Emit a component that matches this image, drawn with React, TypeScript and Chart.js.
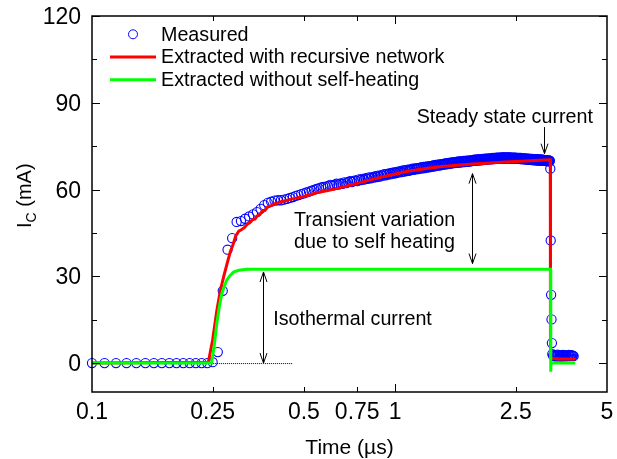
import React, { useEffect, useRef } from "react";
import { Chart, registerables } from "chart.js";

Chart.register(...registerables);

// ---------- data ----------
const xTicks = [0.1, 0.25, 0.5, 0.75, 1, 2.5, 5];
const xTickLabels = ["0.1", "0.25", "0.5", "0.75", "1", "2.5", "5"];
const xMinorTicks = [0.25, 0.5, 0.75, 2.5];
const xMajorTicks = [1];
const yTicks = [0, 30, 60, 90, 120];
const yMinorTicks = [15, 45, 75, 105];

// measured collector current (time in µs, current in mA)
const measuredRise: [number, number][] = [
  [0.10, 0], [0.11, 0], [0.12, 0], [0.13, 0], [0.14, 0], [0.15, 0], [0.16, 0], [0.17, 0], [0.18, 0], [0.19, 0],
  [0.20, 0], [0.21, 0], [0.22, 0], [0.23, 0], [0.24, 0], [0.25, 0.3], [0.26, 3.8], [0.27, 25.0], [0.28, 39.2], [0.29, 43.2],
  [0.30, 48.8], [0.31, 49.1], [0.32, 49.9], [0.33, 50.7], [0.34, 51.4], [0.35, 52.2], [0.36, 53.3], [0.37, 54.6], [0.38, 55.4], [0.39, 55.8],
  [0.40, 56.2], [0.41, 56.3], [0.42, 56.3], [0.43, 56.5], [0.44, 56.8], [0.45, 57.1], [0.46, 57.4], [0.47, 57.8], [0.48, 58.1], [0.49, 58.4],
  [0.50, 58.7], [0.51, 59.0], [0.52, 59.3], [0.53, 59.6], [0.54, 59.9], [0.55, 60.2], [0.56, 60.4], [0.57, 60.7], [0.58, 60.9], [0.59, 61.0],
];

const measuredRamp: [number, number][] = [
  [0.60, 61.2], [0.61, 61.6], [0.62, 61.4], [0.63, 61.5], [0.64, 62.0], [0.65, 61.7], [0.66, 62.1], [0.67, 62.0], [0.68, 62.5], [0.69, 62.2],
  [0.70, 62.6], [0.71, 62.9], [0.72, 62.6], [0.73, 63.0], [0.74, 63.2], [0.75, 62.9], [0.76, 63.5], [0.77, 63.3], [0.78, 63.7], [0.79, 63.4],
  [0.80, 63.9], [0.81, 63.7], [0.82, 64.2], [0.83, 63.9], [0.84, 64.3], [0.85, 64.1], [0.86, 64.6], [0.87, 64.3], [0.88, 64.8], [0.89, 64.5],
  [0.90, 65.0], [0.91, 64.8], [0.92, 65.3], [0.93, 64.9], [0.94, 65.4], [0.95, 65.2], [0.96, 65.7], [0.97, 65.3], [0.98, 65.8], [0.99, 65.5],
  [1.00, 66.0], [1.01, 65.7], [1.02, 66.2], [1.03, 65.9], [1.04, 66.4], [1.05, 66.0], [1.06, 66.6], [1.07, 66.2], [1.08, 66.7], [1.09, 66.4],
  [1.10, 66.9], [1.11, 66.5], [1.12, 67.0], [1.13, 66.7], [1.14, 67.2], [1.15, 66.8], [1.16, 67.3], [1.17, 67.0], [1.18, 67.4], [1.19, 67.1],
  [1.20, 67.5], [1.21, 67.2], [1.22, 67.7], [1.23, 67.3], [1.24, 67.8], [1.25, 67.4], [1.26, 67.9], [1.27, 67.6], [1.28, 68.0], [1.29, 67.7],
  [1.30, 68.1], [1.31, 67.8], [1.32, 68.2], [1.33, 67.9], [1.34, 68.4], [1.35, 68.0], [1.36, 68.5], [1.37, 68.2], [1.38, 68.6], [1.39, 68.3],
  [1.40, 68.7], [1.41, 68.4], [1.42, 68.8], [1.43, 68.5], [1.44, 68.9], [1.45, 68.6], [1.46, 69.0], [1.47, 68.7], [1.48, 69.1], [1.49, 68.8],
  [1.50, 69.2], [1.51, 68.9], [1.52, 69.3], [1.53, 69.0], [1.54, 69.4], [1.55, 69.1], [1.56, 69.5], [1.57, 69.1], [1.58, 69.5], [1.59, 69.2],
  [1.60, 69.6], [1.61, 69.3], [1.62, 69.7], [1.63, 69.3], [1.64, 69.7], [1.65, 69.4], [1.66, 69.8], [1.67, 69.5], [1.68, 69.9], [1.69, 69.5],
  [1.70, 69.9], [1.71, 69.6], [1.72, 70.0], [1.73, 69.6], [1.74, 70.0], [1.75, 69.7], [1.76, 70.1], [1.77, 69.7], [1.78, 70.1], [1.79, 69.8],
  [1.80, 70.2], [1.81, 69.9], [1.82, 70.3], [1.83, 69.9], [1.84, 70.3], [1.85, 70.0], [1.86, 70.4], [1.87, 70.0], [1.88, 70.4], [1.89, 70.1],
  [1.90, 70.5], [1.91, 70.1], [1.92, 70.5], [1.93, 70.2], [1.94, 70.6], [1.95, 70.2], [1.96, 70.6], [1.97, 70.3], [1.98, 70.7], [1.99, 70.3],
];

const measuredSteady: [number, number][] = [
  [2.00, 70.7], [2.01, 70.4], [2.02, 70.7], [2.03, 70.4], [2.04, 70.8], [2.05, 70.4], [2.06, 70.8], [2.07, 70.5], [2.08, 70.8], [2.09, 70.5],
  [2.10, 70.9], [2.11, 70.5], [2.12, 70.9], [2.13, 70.6], [2.14, 70.9], [2.15, 70.6], [2.16, 71.0], [2.17, 70.6], [2.18, 71.0], [2.19, 70.6],
  [2.20, 71.0], [2.21, 70.7], [2.22, 71.0], [2.23, 70.7], [2.24, 71.1], [2.25, 70.7], [2.26, 71.1], [2.27, 70.7], [2.28, 71.1], [2.29, 70.7],
  [2.30, 71.1], [2.31, 70.7], [2.32, 71.1], [2.33, 70.8], [2.34, 71.1], [2.35, 70.8], [2.36, 71.1], [2.37, 70.8], [2.38, 71.1], [2.39, 70.8],
  [2.40, 71.1], [2.41, 70.7], [2.42, 71.0], [2.43, 70.7], [2.44, 71.0], [2.45, 70.7], [2.46, 71.0], [2.47, 70.7], [2.48, 71.0], [2.49, 70.7],
  [2.50, 71.0], [2.51, 70.6], [2.52, 70.9], [2.53, 70.6], [2.54, 70.9], [2.55, 70.6], [2.56, 70.9], [2.57, 70.6], [2.58, 70.9], [2.59, 70.5],
  [2.60, 70.9], [2.61, 70.5], [2.62, 70.8], [2.63, 70.5], [2.64, 70.8], [2.65, 70.5], [2.66, 70.8], [2.67, 70.4], [2.68, 70.8], [2.69, 70.4],
  [2.70, 70.7], [2.71, 70.4], [2.72, 70.7], [2.73, 70.4], [2.74, 70.7], [2.75, 70.3], [2.76, 70.7], [2.77, 70.3], [2.78, 70.6], [2.79, 70.3],
  [2.80, 70.6], [2.81, 70.3], [2.82, 70.6], [2.83, 70.2], [2.84, 70.6], [2.85, 70.2], [2.86, 70.5], [2.87, 70.2], [2.88, 70.5], [2.89, 70.2],
  [2.90, 70.5], [2.91, 70.1], [2.92, 70.5], [2.93, 70.1], [2.94, 70.4], [2.95, 70.1], [2.96, 70.4], [2.97, 70.1], [2.98, 70.4], [2.99, 70.0],
  [3.00, 70.4], [3.01, 70.0], [3.02, 70.3], [3.03, 70.0], [3.04, 70.3], [3.05, 70.0], [3.06, 70.3], [3.07, 69.9], [3.08, 70.3], [3.09, 69.9],
  [3.10, 70.2], [3.11, 69.9], [3.12, 70.2], [3.13, 69.9], [3.14, 70.2], [3.15, 69.8], [3.16, 70.2], [3.17, 69.8], [3.18, 70.1], [3.19, 69.8],
  [3.20, 70.1], [3.21, 69.8], [3.22, 70.1], [3.23, 69.7], [3.24, 70.0],
];

const measuredFall: [number, number][] = [
  [3.25, 67.2], [3.26, 42.4], [3.27, 23.6], [3.28, 15.1], [3.29, 6.9],
  [3.30, 3.1], [3.32, 2.6], [3.34, 2.4], [3.36, 2.8], [3.38, 2.5], [3.40, 2.2], [3.42, 2.6], [3.44, 2.9], [3.46, 2.4], [3.48, 2.3],
  [3.50, 2.7], [3.52, 2.5], [3.54, 2.2], [3.56, 2.6], [3.58, 2.8], [3.60, 2.4], [3.62, 2.3], [3.64, 2.6], [3.66, 2.7], [3.68, 2.5],
  [3.70, 2.3], [3.72, 2.6], [3.74, 2.8], [3.76, 2.5], [3.78, 2.4], [3.80, 2.6], [3.82, 2.7], [3.84, 2.5], [3.86, 2.6], [3.88, 2.4],
];

const recursive: [number, number][] = [
  [0.1, 0], [0.242, 0.3], [0.25, 8], [0.258, 18], [0.265, 25], [0.272, 30], [0.28, 35], [0.286, 38.5], [0.292, 41],
  [0.298, 44], [0.305, 45.6], [0.31, 46], [0.318, 46.8], [0.325, 48], [0.332, 48.6], [0.338, 49.5], [0.345, 49.8],
  [0.35, 50.8], [0.358, 51.4], [0.365, 52.6], [0.372, 52.8], [0.38, 54], [0.39, 54.4], [0.4, 55], [0.42, 55.8],
  [0.45, 56.6], [0.5, 57.6], [0.55, 58.9], [0.6, 59.7], [0.65, 60.5], [0.7, 61.3], [0.8, 62.9], [0.9, 64.3],
  [1.0, 65.4], [1.1, 66.3], [1.25, 67.2], [1.4, 67.9], [1.6, 68.4], [1.8, 68.8], [2.0, 69.1], [2.3, 69.5],
  [2.6, 69.8], [3.0, 70.1], [3.25, 70.3], [3.255, 3], [3.27, 1.6], [3.5, 1.4], [3.93, 1.4],
];

const isothermal: [number, number][] = [
  [0.1, 0], [0.248, 0], [0.253, 6], [0.258, 13.6], [0.263, 19.5], [0.268, 24], [0.273, 26.5], [0.278, 28.6],
  [0.285, 30.2], [0.293, 31.5], [0.305, 32.1], [0.324, 32.4], [0.4, 32.4], [1, 32.4], [3.255, 32.4],
  [3.262, -3], [3.268, 0], [3.93, 0],
];

const measured = [...measuredRise, ...measuredRamp, ...measuredSteady, ...measuredFall];

const FONT = "'Liberation Sans', Arial, Helvetica, sans-serif";

function arrow(ctx: CanvasRenderingContext2D, x: number, y1: number, y2: number, headTop: boolean, headBottom: boolean) {
  ctx.beginPath();
  ctx.moveTo(x, y1);
  ctx.lineTo(x, y2);
  if (headTop) {
    ctx.moveTo(x - 3.5, y1 + 10);
    ctx.lineTo(x, y1);
    ctx.lineTo(x + 3.5, y1 + 10);
  }
  if (headBottom) {
    ctx.moveTo(x - 3.5, y2 - 10);
    ctx.lineTo(x, y2);
    ctx.lineTo(x + 3.5, y2 - 10);
  }
  ctx.stroke();
}

const decor = {
  id: "decor",
  afterDatasetsDraw(chart: any) {
    const { ctx, chartArea: a } = chart;
    const xs = chart.scales.x;
    const ys = chart.scales.y;
    const px = (v: number) => xs.getPixelForValue(v);
    const py = (v: number) => ys.getPixelForValue(v);
    ctx.save();

    // dotted baseline
    ctx.strokeStyle = "#000";
    ctx.lineWidth = 1;
    ctx.setLineDash([1, 1]);
    ctx.beginPath();
    ctx.moveTo(px(0.251), py(0) + 0.5);
    ctx.lineTo(px(0.46), py(0) + 0.5);
    ctx.stroke();
    ctx.setLineDash([]);

    // arrows
    ctx.lineWidth = 1;
    arrow(ctx, Math.round(px(0.3675)) + 0.5, py(31.5), py(0), true, true);
    arrow(ctx, Math.round(px(1.79)) + 0.5, py(65.5), py(34.4), true, true);
    arrow(ctx, Math.round(px(3.087)) + 0.5, py(81.6), py(72.4), false, true);

    // annotation text
    ctx.fillStyle = "#000";
    ctx.font = `19.7px ${FONT}`;
    ctx.textBaseline = "alphabetic";
    ctx.textAlign = "center";
    ctx.fillText("Steady state current", px(2.3), py(83.05));
    ctx.fillText("Transient variation", px(0.855), py(47.3));
    ctx.fillText("due to self heating", px(0.855), py(39.9));
    ctx.textAlign = "left";
    ctx.fillText("Isothermal current", px(0.396), py(13.0));

    // frame
    ctx.lineWidth = 1.5;
    ctx.strokeStyle = "#000";
    ctx.strokeRect(a.left, a.top, a.right - a.left, a.bottom - a.top);

    // ticks (inward)
    ctx.lineWidth = 1;
    ctx.beginPath();
    const xt = (v: number, len: number) => {
      const x = Math.round(px(v)) + 0.5;
      ctx.moveTo(x, a.bottom);
      ctx.lineTo(x, a.bottom - len);
      ctx.moveTo(x, a.top);
      ctx.lineTo(x, a.top + len);
    };
    xMinorTicks.forEach((v) => xt(v, 5));
    xMajorTicks.forEach((v) => xt(v, 8));
    const yt = (v: number, len: number) => {
      const y = Math.round(py(v)) + 0.5;
      ctx.moveTo(a.left, y);
      ctx.lineTo(a.left + len, y);
      ctx.moveTo(a.right, y);
      ctx.lineTo(a.right - len, y);
    };
    yTicks.forEach((v) => yt(v, 8));
    yMinorTicks.forEach((v) => yt(v, 5));
    ctx.stroke();

    // tick labels
    ctx.font = `23px ${FONT}`;
    ctx.textAlign = "right";
    yTicks.forEach((v) => ctx.fillText(String(v), a.left - 11, py(v) + 8));
    ctx.textAlign = "center";
    xTicks.forEach((v, i) => ctx.fillText(xTickLabels[i], px(v), a.bottom + 27));

    // axis titles
    ctx.font = `21px ${FONT}`;
    ctx.fillText("Time (\u00b5s)", (a.left + a.right) / 2, a.bottom + 61.5);

    ctx.save();
    ctx.translate(a.left - 61, (a.top + a.bottom) / 2 + 24);
    ctx.rotate(-Math.PI / 2);
    ctx.textAlign = "left";
    ctx.font = `20px ${FONT}`;
    ctx.fillText("I", 0, 0);
    let w = ctx.measureText("I").width;
    ctx.font = `14px ${FONT}`;
    ctx.fillText("C", w, 5);
    w += ctx.measureText("C").width;
    ctx.font = `20px ${FONT}`;
    ctx.fillText(" (mA)", w, 0);
    ctx.restore();

    // legend
    const ds = chart.data.datasets;
    const lx = a.left + 18;
    const tx = a.left + 69;
    ctx.font = `19.7px ${FONT}`;
    ctx.textAlign = "left";
    const rows = [
      { d: ds[2], y: a.top + 24.7, circle: true },
      { d: ds[1], y: a.top + 47.3, circle: false },
      { d: ds[0], y: a.top + 70, circle: false },
    ];
    rows.forEach((r) => {
      if (r.circle) {
        ctx.strokeStyle = r.d.borderColor;
        ctx.lineWidth = 1;
        ctx.beginPath();
        ctx.arc(a.left + 41, r.y - 6.4, 4.5, 0, Math.PI * 2);
        ctx.stroke();
      } else {
        ctx.strokeStyle = r.d.borderColor;
        ctx.lineWidth = 3;
        ctx.beginPath();
        ctx.moveTo(lx, r.y - 6.2);
        ctx.lineTo(lx + 46, r.y - 6.2);
        ctx.stroke();
      }
      ctx.fillStyle = "#000";
      ctx.fillText(r.d.label, tx, r.y);
    });

    ctx.restore();
  },
};

export default function App() {
  const ref = useRef<HTMLCanvasElement | null>(null);
  useEffect(() => {
    if (!ref.current) return;
    const chart = new Chart(ref.current, {
      type: "scatter",
      data: {
        datasets: [
          {
            label: "Extracted without self-heating",
            data: isothermal.map(([x, y]) => ({ x, y })),
            showLine: true,
            borderColor: "#00ff00",
            backgroundColor: "#00ff00",
            borderWidth: 3,
            pointRadius: 0,
            tension: 0,
          },
          {
            label: "Extracted with recursive network",
            data: recursive.map(([x, y]) => ({ x, y })),
            showLine: true,
            borderColor: "#ff0000",
            backgroundColor: "#ff0000",
            borderWidth: 3,
            pointRadius: 0,
            tension: 0,
          },
          {
            label: "Measured",
            data: measured.map(([x, y]) => ({ x, y })),
            showLine: false,
            borderColor: "#0000ff",
            backgroundColor: "rgba(0,0,0,0)",
            borderWidth: 1.1,
            pointRadius: 4.6,
            pointStyle: "circle",
            clip: 8,
          },
        ],
      },
      options: {
        responsive: false,
        animation: false,
        events: [],
        layout: { padding: { left: 92, top: 16, right: 10, bottom: 67 } },
        plugins: { legend: { display: false }, tooltip: { enabled: false } },
        scales: {
          x: { type: "logarithmic", min: 0.1, max: 5, display: false },
          y: { type: "linear", min: -10, max: 120, display: false },
        },
      },
      plugins: [decor],
    });
    return () => chart.destroy();
  }, []);
  return (
    <div style={{ position: "fixed", left: 0, top: 0, width: 617, height: 459, background: "#fff" }}>
      <canvas ref={ref} width={617} height={459} />
    </div>
  );
}
